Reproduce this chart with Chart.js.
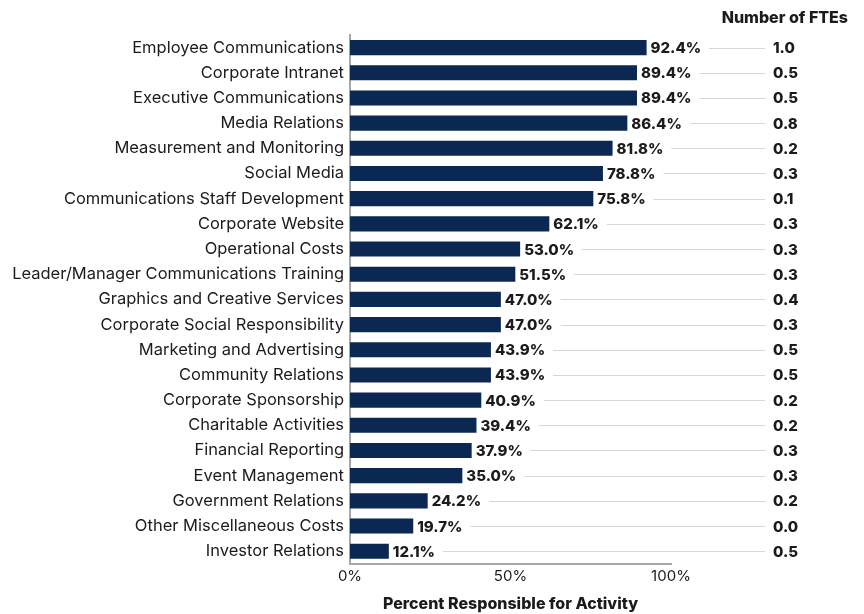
<!DOCTYPE html>
<html>
<head>
<meta charset="utf-8">
<script src="https://cdn.jsdelivr.net/npm/chart.js@4"></script>
<style>
  html, body { margin: 0; padding: 0; background: #fff; }
  #wrap { width: 864px; height: 614px; }
</style>
</head>
<body>
<div id="wrap"><canvas id="activityChart" width="864" height="614"></canvas></div>
<script>
const activities = [
  'Employee Communications', 'Corporate Intranet', 'Executive Communications',
  'Media Relations', 'Measurement and Monitoring', 'Social Media',
  'Communications Staff Development', 'Corporate Website', 'Operational Costs',
  'Leader/Manager Communications Training', 'Graphics and Creative Services',
  'Corporate Social Responsibility', 'Marketing and Advertising', 'Community Relations',
  'Corporate Sponsorship', 'Charitable Activities', 'Financial Reporting',
  'Event Management', 'Government Relations', 'Other Miscellaneous Costs', 'Investor Relations'
];
const percentResponsible = [
  92.4, 89.4, 89.4, 86.4, 81.8, 78.8, 75.8, 62.1, 53.0, 51.5, 47.0,
  47.0, 43.9, 43.9, 40.9, 39.4, 37.9, 35.0, 24.2, 19.7, 12.1
];
const fteCounts = [
  1.0, 0.5, 0.5, 0.8, 0.2, 0.3, 0.1, 0.3, 0.3, 0.3, 0.4,
  0.3, 0.5, 0.5, 0.2, 0.2, 0.3, 0.3, 0.2, 0.0, 0.5
];
const xTicks = [0, 50, 100];

const FONT = 'Inter, "Noto Sans", sans-serif';
const INK = '#1b1b1b';

// value labels, leader lines and the FTE column on the right
const fteColumn = {
  id: 'fteColumn',
  afterDatasetsDraw(chart) {
    const ctx = chart.ctx;
    const meta = chart.getDatasetMeta(0);
    const fteX = 773;
    ctx.save();
    ctx.font = '800 15px ' + FONT;
    ctx.textBaseline = 'middle';
    meta.data.forEach((bar, i) => {
      const label = percentResponsible[i].toFixed(1) + '%';
      const lx = bar.x + 4;
      ctx.fillStyle = INK;
      ctx.textAlign = 'left';
      ctx.fillText(label, lx, bar.y + 1);
      const w = ctx.measureText(label).width;
      ctx.strokeStyle = '#d6d6d6';
      ctx.lineWidth = 1;
      ctx.beginPath();
      ctx.moveTo(lx + w + 8, Math.round(bar.y) + 0.5);
      ctx.lineTo(fteX - 8, Math.round(bar.y) + 0.5);
      ctx.stroke();
      ctx.fillText(fteCounts[i].toFixed(1), fteX, bar.y + 1);
    });
    ctx.font = '800 16px ' + FONT;
    ctx.textAlign = 'right';
    ctx.fillText('Number of FTEs', 848, 18);
    ctx.restore();
  }
};

new Chart(document.getElementById('activityChart'), {
  type: 'bar',
  data: {
    labels: activities,
    datasets: [{
      label: 'Percent Responsible for Activity',
      data: percentResponsible,
      backgroundColor: '#0a2852',
      borderWidth: 0,
      categoryPercentage: 1,
      barPercentage: 0.6
    }]
  },
  options: {
    indexAxis: 'y',
    responsive: false,
    animation: false,
    layout: { padding: { top: 35, right: 193, left: 0, bottom: 0 } },
    plugins: { legend: { display: false }, tooltip: { enabled: false } },
    scales: {
      x: {
        min: 0,
        max: 100,
        afterBuildTicks(scale) { scale.ticks = xTicks.map(v => ({ value: v })); },
        ticks: {
          callback: v => v + '%',
          color: INK,
          font: { family: FONT, size: 15 },
          padding: 4,
          maxRotation: 0
        },
        grid: { display: false, drawTicks: false },
        border: { color: '#a8a8a8', width: 2 },
        title: {
          display: true,
          text: 'Percent Responsible for Activity',
          color: INK,
          font: { family: FONT, size: 16, weight: '800' },
          padding: { top: 5, bottom: 0 }
        }
      },
      y: {
        afterFit(scale) { scale.width = 350; },
        ticks: {
          color: INK,
          font: { family: FONT, size: 16.5 },
          padding: 6
        },
        grid: { display: false, drawTicks: false },
        border: { color: '#a8a8a8', width: 2 }
      }
    }
  },
  plugins: [fteColumn]
});
</script>
</body>
</html>
